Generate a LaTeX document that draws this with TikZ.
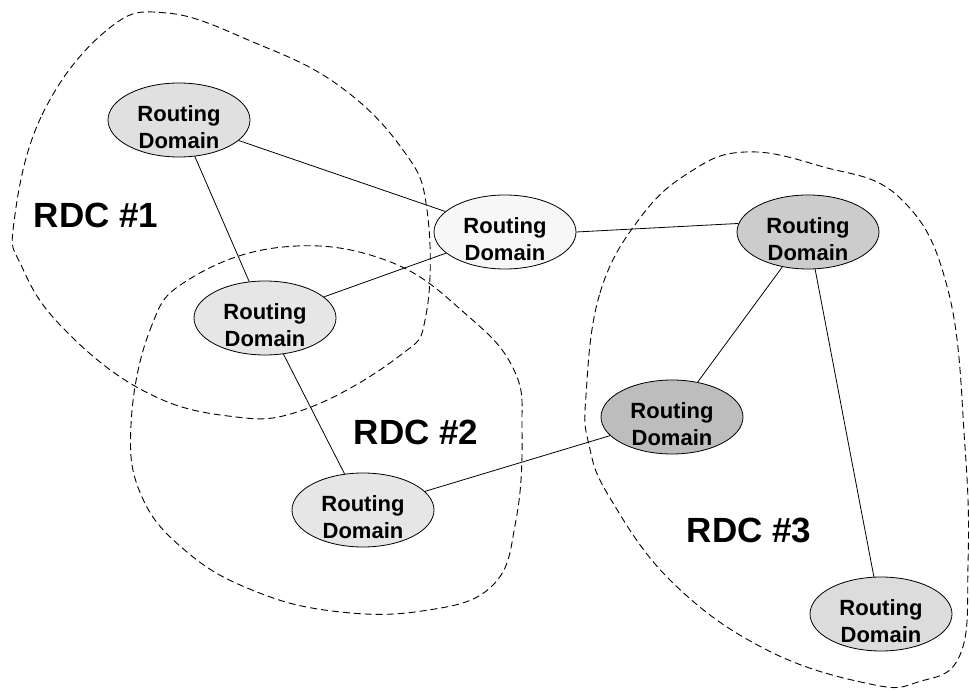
\documentclass[tikz,border=0pt]{standalone}
\usepackage{fontspec}
\setmainfont{Liberation Sans}
\usetikzlibrary{shapes.geometric}
\definecolor{rdA}{HTML}{E0E0E0}
\definecolor{rdB}{HTML}{F7F7F7}
\definecolor{rdC}{HTML}{E6E6E6}
\definecolor{rdE}{HTML}{CCCCCC}
\definecolor{rdF}{HTML}{BDBDBD}
\definecolor{rdG}{HTML}{DCDCDC}
\newcommand\rdlabel{\raisebox{-14.5pt}[0pt][0pt]{\begin{tabular}{@{}c@{}}Routing\\Domain\end{tabular}}}
\tikzset{
  rd/.style={ellipse, draw=black, line width=0.8pt, minimum width=142pt, minimum height=74pt, inner sep=0pt,
    font=\fontsize{22}{27}\selectfont\bfseries},
  link/.style={draw=black, line width=0.8pt},
  blob/.style={draw=black, line width=0.9pt, dash pattern=on 7pt off 4pt},
  rdc/.style={font=\fontsize{35}{40}\selectfont\bfseries}
}
\begin{document}
\begin{tikzpicture}[x=1pt,y=-1pt]
\useasboundingbox (0,0) rectangle (970,692);
% clouds
\draw[blob] plot[smooth cycle, tension=0.7] coordinates {(14,222) (42,115) (107,30) (167,13) (253,42) (338,85) (403,150) (427,210) (426,315) (398,357) (303,410) (228,416) (142,390) (62,327) (22,267)};
\draw[blob] plot[smooth cycle, tension=0.7] coordinates {(131,425) (150,330) (188,280) (283,247) (388,261) (468,316) (514,370) (522,430) (516,520) (492,586) (422,611) (332,611) (252,590) (187,552) (142,497)};
\draw[blob] plot[smooth cycle, tension=0.7] coordinates {(586,395) (600,293) (640,218) (690,172) (745,152) (820,166) (900,198) (948,290) (965,447) (968,565) (960,655) (918,682) (870,684) (767,650) (673,583) (610,498) (589,445)};
% nodes
\node[rd, fill=rdA] (a) at (179,120) {\rdlabel};
\node[rd, fill=rdB] (b) at (505,232) {\rdlabel};
\node[rd, fill=rdC] (c) at (265,318) {\rdlabel};
\node[rd, fill=rdC] (d) at (363,510) {\rdlabel};
\node[rd, fill=rdE] (e) at (808,232) {\rdlabel};
\node[rd, fill=rdF] (f) at (672,417) {\rdlabel};
\node[rd, fill=rdG] (g) at (881,614) {\rdlabel};
% labels
\node[rdc] (l1) at (96,215) {RDC \#1};
\node[rdc] (l2) at (416,432) {RDC \#2};
\node[rdc] (l3) at (749,530) {RDC \#3};
% links
\draw[link] (a) -- (b);
\draw[link] (a) -- (c);
\draw[link] (c) -- (b);
\draw[link] (c) -- (d);
\draw[link] (d) -- (f);
\draw[link] (b.east) -- (e.173);
\draw[link] (e) -- (f);
\draw[link] (e) -- (g);
\end{tikzpicture}
\end{document}
